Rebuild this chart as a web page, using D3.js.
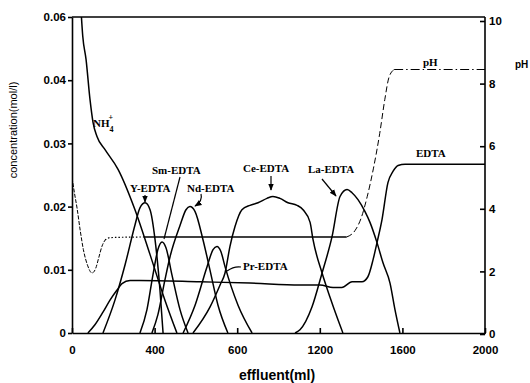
<!DOCTYPE html>
<html>
<head>
<meta charset="utf-8">
<script src="https://cdn.jsdelivr.net/npm/d3@7"></script>
<style>
  body { margin: 0; background: #fff; }
  svg { display: block; }
  .tick text { font-family: 'Liberation Sans', Arial, sans-serif; font-weight: bold; font-size: 11px; fill: #000; }
  .domain, .tick line { stroke: #000; stroke-width: 1.6; }
  .lbl { font-family: 'Liberation Serif', serif; font-weight: bold; font-size: 11px; fill: #000; }
</style>
</head>
<body>
<div id="chart"></div>
<script>
// tick values and the labels printed on the original figure
const effTicks = [0, 400, 800, 1200, 1600, 2000]
const effTickLabels = ['0', '400', '600', '1200', '1600', '2000']
const concTicks = [0, 0.01, 0.02, 0.03, 0.04, 0.05]
const concTickLabels = ['0', '0.01', '0.02', '0.03', '0.04', '0.06']
const phTicks = [0, 2, 4, 6, 8, 10]

// [effluent ml, concentration mol/l]
const nh4 = [[42, 0.052], [52, 0.047], [68, 0.0433], [87, 0.037], [102, 0.0333], [121, 0.0311],
  [160, 0.029], [223, 0.0259], [305, 0.0195], [378, 0.0124], [450, 0.0052], [508, 0]]
const edta = [[77, 0], [111, 0.0013], [150, 0.0033], [184, 0.0052], [218, 0.0068], [242, 0.0078],
  [281, 0.0083], [329, 0.0083], [620, 0.0081], [862, 0.0079], [1104, 0.0076], [1201, 0.0076],
  [1264, 0.0072], [1307, 0.0072], [1356, 0.0081], [1404, 0.0081], [1433, 0.0089], [1458, 0.0116],
  [1477, 0.0143], [1501, 0.0179], [1530, 0.0238], [1555, 0.0256], [1579, 0.0265], [1613, 0.0267],
  [2000, 0.0267]]
const yEdta = [[150, 0], [208, 0.0052], [257, 0.0108], [305, 0.0171], [329, 0.0198], [354, 0.0206],
  [378, 0.0195], [402, 0.0148], [426, 0.0068], [441, 0]]
const smEdta = [[329, 0], [363, 0.0037], [392, 0.0092], [416, 0.0132], [436, 0.0144], [455, 0.0135],
  [484, 0.0092], [523, 0.0037], [562, 0]]
const ndEdta = [[387, 0], [416, 0.0029], [450, 0.0084], [475, 0.0121], [523, 0.017], [552, 0.0195],
  [571, 0.020], [596, 0.0192], [634, 0.0148], [668, 0.010], [707, 0.0044], [755, 0]]
const prEdta = [[538, 0], [596, 0.0044], [654, 0.0105], [683, 0.0132], [702, 0.0137], [721, 0.0129],
  [741, 0.0105], [804, 0.0044], [872, 0]]
const ceEdta = [[586, 0], [668, 0.0041], [717, 0.0076], [741, 0.0095], [765, 0.0137], [789, 0.0168],
  [823, 0.0195], [862, 0.0202], [901, 0.0206], [944, 0.0213], [973, 0.0216], [1007, 0.0213],
  [1046, 0.0206], [1090, 0.0202], [1119, 0.0195], [1153, 0.0175], [1167, 0.0148], [1211, 0.0095],
  [1249, 0.0057], [1288, 0.0021], [1312, 0]]
const laEdta = [[1080, 0], [1104, 0.0005], [1162, 0.0041], [1211, 0.0095], [1259, 0.0152],
  [1298, 0.0216], [1332, 0.0227], [1356, 0.0222], [1385, 0.0211], [1419, 0.0192], [1443, 0.0175],
  [1477, 0.0143], [1506, 0.0111], [1540, 0.0079], [1564, 0.0037], [1588, 0]]
// [effluent ml, pH]
const ph = [[0, 5.0], [12, 4.5], [25, 4.0], [40, 3.3], [55, 2.7], [75, 2.2], [97, 1.95], [115, 2.1],
  [130, 2.45], [145, 2.8], [160, 3.0], [185, 3.08], [350, 3.1], [800, 3.1], [1330, 3.1], [1370, 3.3],
  [1400, 3.7], [1430, 4.4], [1460, 5.3], [1490, 6.4], [1515, 7.5], [1535, 8.2], [1560, 8.45], [2000, 8.45]]

const W = 530
const H = 383
const plot = { left: 72, right: 485, top: 17, bottom: 333 }

const svg = d3.select('#chart').append('svg').attr('width', W).attr('height', H)

const x = d3.scaleLinear().domain([0, 2000]).range([plot.left, plot.right])
const yL = d3.scaleLinear().domain([0, 0.05]).range([plot.bottom, plot.top])
const yR = d3.scaleLinear().domain([0, 10]).range([plot.bottom + 1, plot.top + 4])

svg.append('defs').append('clipPath').attr('id', 'clip')
  .append('rect')
  .attr('x', plot.left).attr('y', plot.top)
  .attr('width', plot.right - plot.left).attr('height', plot.bottom - plot.top)

svg.append('defs').append('marker')
  .attr('id', 'head')
  .attr('viewBox', '0 0 10 10')
  .attr('refX', 9).attr('refY', 5)
  .attr('markerWidth', 6).attr('markerHeight', 6)
  .attr('orient', 'auto')
  .append('path').attr('d', 'M0,1 L10,5 L0,9 Z').attr('fill', '#000')

const concLine = d3.line().x(d => x(d[0])).y(d => yL(d[1])).curve(d3.curveMonotoneX)
const phLine = d3.line().x(d => x(d[0])).y(d => yR(d[1])).curve(d3.curveMonotoneX)

const curves = svg.append('g').attr('clip-path', 'url(#clip)')

// pH trace: style changes along the curve like on the scan
const phParts = [
  { lo: 0, hi: 160, dash: '4,1.5', w: 1 },
  { lo: 160, hi: 350, dash: '1.5,2', w: 1.2 },
  { lo: 350, hi: 1330, dash: null, w: 1.4 },
  { lo: 1330, hi: 1560, dash: '6,3', w: 1 },
  { lo: 1560, hi: 2000, dash: '9,3,1.5,3', w: 1.1 }
]
phParts.forEach(p => {
  curves.append('path')
    .datum(ph.filter(d => d[0] >= p.lo && d[0] <= p.hi))
    .attr('d', phLine)
    .attr('fill', 'none')
    .attr('stroke', '#000')
    .attr('stroke-width', p.w)
    .attr('stroke-dasharray', p.dash)
})

;[nh4, edta, yEdta, smEdta, ndEdta, prEdta, ceEdta, laEdta].forEach(series => {
  curves.append('path')
    .datum(series)
    .attr('d', concLine)
    .attr('fill', 'none')
    .attr('stroke', '#000')
    .attr('stroke-width', 1.5)
    .attr('stroke-linejoin', 'round')
})

// frame + axes
svg.append('line')
  .attr('x1', plot.left).attr('x2', plot.right)
  .attr('y1', plot.top).attr('y2', plot.top)
  .attr('stroke', '#000').attr('stroke-width', 1.6)

svg.append('g')
  .attr('transform', `translate(${plot.left},0)`)
  .call(d3.axisLeft(yL).tickValues(concTicks).tickFormat((d, i) => concTickLabels[i])
    .tickSizeInner(4).tickSizeOuter(0).tickPadding(2))

svg.append('g')
  .attr('transform', `translate(${plot.right},0)`)
  .call(d3.axisRight(yR).tickValues(phTicks).tickSizeInner(-5).tickSizeOuter(0).tickPadding(4))
  .call(g => g.select('.domain').attr('d', `M0,${plot.top}V${plot.bottom + 1}`))

svg.append('g')
  .attr('transform', `translate(0,${plot.bottom})`)
  .call(d3.axisBottom(x).tickValues(effTicks).tickFormat((d, i) => effTickLabels[i])
    .tickSizeInner(-5).tickSizeOuter(0).tickPadding(13))

svg.selectAll('.tick text').style('font-size', '11.5px')

// axis titles
svg.append('text')
  .attr('transform', 'translate(17,130) rotate(-90)')
  .attr('text-anchor', 'middle')
  .style('font-family', "'Liberation Sans', Arial, sans-serif")
  .style('font-size', '11px')
  .text('concentration(mol/l)')

svg.append('text')
  .attr('x', 277).attr('y', 380)
  .attr('text-anchor', 'middle')
  .style('font-family', "'Liberation Sans', Arial, sans-serif")
  .style('font-weight', 'bold')
  .style('font-size', '14px')
  .text('effluent(ml)')

svg.append('text')
  .attr('x', 515).attr('y', 68)
  .style('font-family', "'Liberation Sans', Arial, sans-serif")
  .style('font-weight', 'bold')
  .style('font-size', '10px')
  .text('pH')

// curve annotations
const notes = svg.append('g')
const nh = notes.append('text').attr('class', 'lbl').attr('x', 93).attr('y', 127)
nh.append('tspan').text('NH')
nh.append('tspan').attr('dy', 5).style('font-size', '8px').text('4')
nh.append('tspan').attr('dx', -5).attr('dy', -12).style('font-size', '8px').text('+')

const lbls = [
  ['Y-EDTA', 130, 192],
  ['Sm-EDTA', 152, 174],
  ['Nd-EDTA', 187, 192],
  ['Ce-EDTA', 243, 172],
  ['La-EDTA', 308, 173],
  ['Pr-EDTA', 243, 270],
  ['EDTA', 416, 157],
  ['pH', 423, 66]
]
lbls.forEach(l => {
  notes.append('text').attr('class', 'lbl').attr('x', l[1]).attr('y', l[2]).text(l[0])
})

const arrow = (d, head) => notes.append('path')
  .attr('d', d).attr('fill', 'none').attr('stroke', '#000').attr('stroke-width', 1.2)
  .attr('marker-end', head ? 'url(#head)' : null)

arrow('M145,195 L145,202', true)
arrow('M180,177 L164,239', false)
arrow('M201,194 Q203,201 195,206', true)
arrow('M271,176 L271,190', true)
arrow('M322,179 L336,196', true)
arrow('M241,267 Q234,266 227,271', false)
</script>
</body>
</html>
